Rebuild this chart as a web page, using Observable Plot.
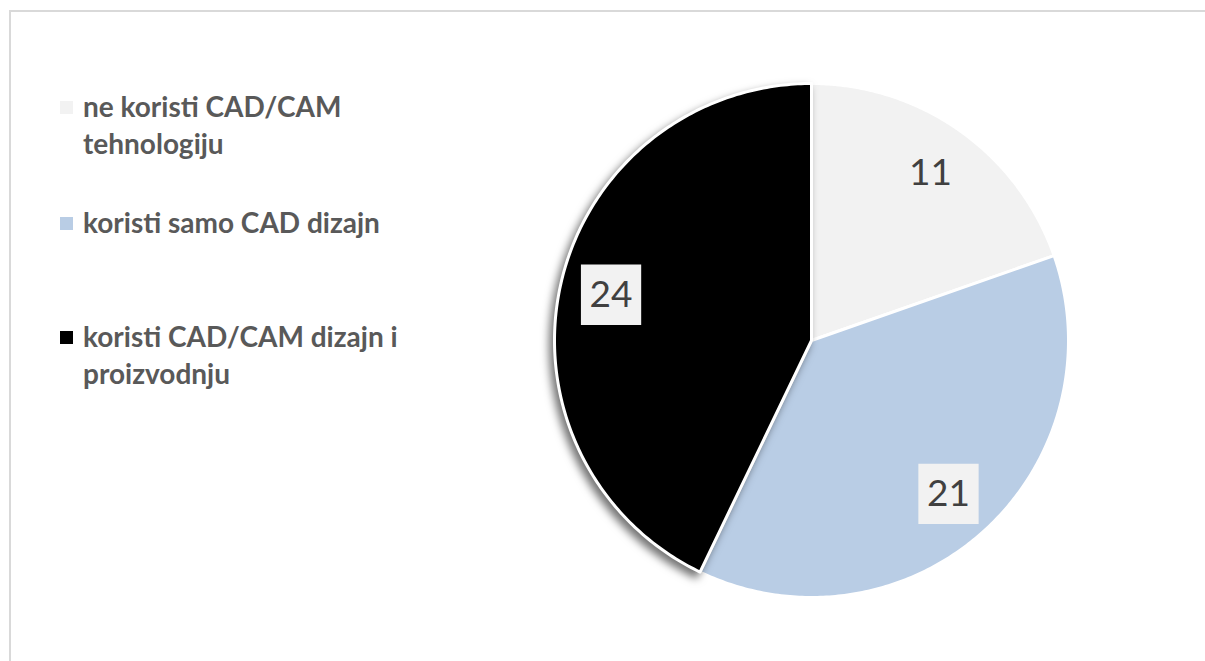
<!DOCTYPE html>
<html>
<head>
<meta charset="utf-8">
<script src="https://cdn.jsdelivr.net/npm/d3@7"></script>
<script src="https://cdn.jsdelivr.net/npm/@observablehq/plot@0.6"></script>
<style>
  html, body { margin: 0; padding: 0; background: #fff; }
  #wrap { position: relative; width: 1205px; height: 661px; overflow: hidden; }
  #frame { position: absolute; left: 9px; top: 10px; width: 1300px; height: 800px;
           border-left: 2px solid #d9d9d9; border-top: 2px solid #d9d9d9; box-sizing: border-box; }
  #chart { position: absolute; left: 0; top: 0; }
  .leg { position: absolute; left: 60px; font-family: Lato, "Open Sans", sans-serif; font-weight: 700;
         font-size: 28px; line-height: 37px; color: #595959; }
  .leg .sw { position: absolute; left: 0; top: 13px; width: 13px; height: 13px; }
  .leg .tx { margin-left: 23px; width: 350px; }
</style>
</head>
<body>
<div id="wrap">
  <div id="frame"></div>
  <div id="chart"></div>
</div>
<script>
const categories = ["ne koristi CAD/CAM tehnologiju", "koristi samo CAD dizajn", "koristi CAD/CAM dizajn i proizvodnju"];
const values = [11, 21, 24];
const colors = ["#f2f2f2", "#b9cde5", "#000000"];

// pie angles (clockwise from 12 o'clock)
const arcs = d3.pie().sort(null).value(d => d)(values);

function slicePoints(a, i) {
  const pts = [{slice: i, x: 0, y: 0}];
  const n = 200;
  for (let k = 0; k <= n; k++) {
    const t = a.startAngle + (a.endAngle - a.startAngle) * k / n;
    pts.push({slice: i, x: Math.sin(t), y: Math.cos(t)});
  }
  pts.push({slice: i, x: 0, y: 0});
  return pts;
}

const sliceMarks = arcs.map((a, i) =>
  Plot.line(slicePoints(a, i), {x: "x", y: "y", fill: colors[i], stroke: "white", strokeWidth: 3, strokeLinejoin: "round", curve: "linear"})
);

const labels = arcs.map((a, i) => {
  const m = (a.startAngle + a.endAngle) / 2;
  return {value: values[i], x: 0.8 * Math.sin(m), y: 0.8 * Math.cos(m)};
});

const plot = Plot.plot({
  width: 1205,
  height: 661,
  margin: 0,
  style: {background: "none", overflow: "visible"},
  x: {domain: [-1, 1], range: [554, 1068], axis: null},
  y: {domain: [-1, 1], range: [597, 83], axis: null},
  marks: [
    ...sliceMarks,
    Plot.dot(labels, {x: "x", y: "y", symbol: "square", r: 34, fill: "#f2f2f2", stroke: "none"}),
    Plot.text(labels, {x: "x", y: "y", text: d => String(d.value), fill: "#404040",
      fontSize: 37, fontFamily: "Lato, 'Open Sans', sans-serif", textAnchor: "middle", lineAnchor: "middle"})
  ]
});

document.getElementById("chart").appendChild(plot);

// drop shadow on the black slice
d3.select(plot).selectAll("g[fill='#000000']").style("filter", "drop-shadow(-4px 5px 4px rgba(0,0,0,0.55))");

// legend
const tops = [88, 204, 318];
const wrap = document.getElementById("wrap");
categories.forEach((c, i) => {
  const d = document.createElement("div");
  d.className = "leg";
  d.style.top = tops[i] + "px";
  d.innerHTML = `<span class="sw" style="background:${colors[i]}"></span><div class="tx">${c}</div>`;
  wrap.appendChild(d);
});
</script>
</body>
</html>
